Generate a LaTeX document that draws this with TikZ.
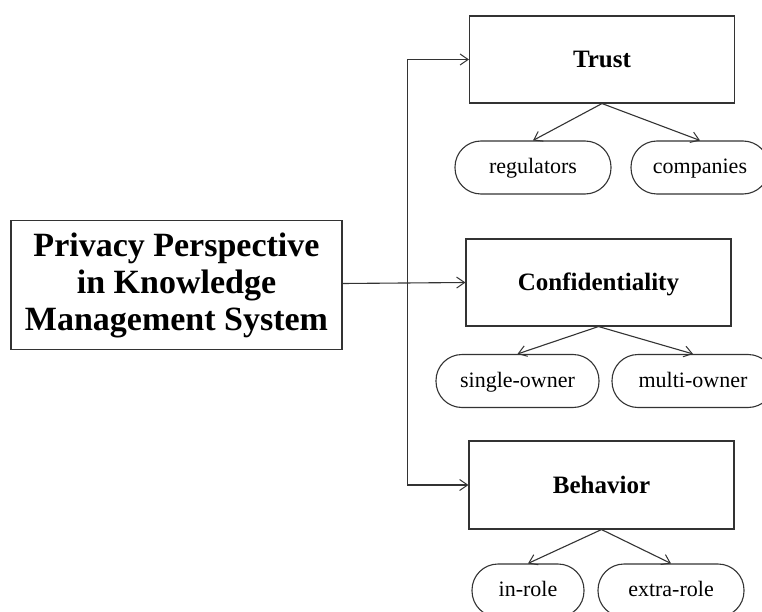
\documentclass[tikz,border=0pt]{standalone}
\usepackage{fontspec}
\setmainfont{Liberation Serif}
\usetikzlibrary{arrows.meta}
\begin{document}
\begin{tikzpicture}[x=1pt,y=-1pt,
  ln/.style={draw=black!80,line width=1.1pt},
  arr/.style={ln,-{Straight Barb[length=8pt,width=11pt,line width=1pt]}},
  topbox/.style={ln,rectangle,inner sep=0pt,minimum width=265pt,minimum height=87pt,text height=16.5pt,text depth=0pt,font=\fontsize{25}{28}\selectfont\bfseries},
  mainbox/.style={ln,rectangle,inner sep=0pt,minimum width=331pt,minimum height=129pt,align=center,font=\fontsize{34}{37}\selectfont\bfseries},
  pill/.style={ln,rectangle,rounded corners=26pt,inner sep=0pt,minimum height=53pt,text height=15pt,text depth=3pt,font=\fontsize{22}{24}\selectfont}
]
\clip (0,0) rectangle (762,612);
\fill[white] (0,0) rectangle (762,612);

\node[mainbox] (main) at (176.5,285) {Privacy Perspective\\in Knowledge\\Management System};

\node[topbox] (trust) at (602,59.5) {Trust};
\node[topbox] (conf) at (598.5,282.5) {Confidentiality};
\node[topbox,minimum height=88pt] (beh) at (601.5,485) {Behavior};

\node[pill,minimum width=156pt] (reg) at (533,167.5) {regulators};
\node[pill,minimum width=138pt] (comp) at (700,167.5) {companies};
\node[pill,minimum width=163pt] (single) at (517.5,381) {single-owner};
\node[pill,minimum width=162pt] (multi) at (693,381) {multi-owner};
\node[pill,minimum width=112pt] (inrole) at (528,590.5) {in-role};
\node[pill,minimum width=146pt] (extra) at (671,590.5) {extra-role};

\coordinate (j) at (407.5,283.5);
\draw[arr] (main.east |- j) -- (conf.west);
\draw[arr] (j) |- (trust.west);
\draw[arr] (j) |- (beh.west);

\draw[arr] (trust.south) -- (reg.north);
\draw[arr] (trust.south) -- (comp.north);
\draw[arr] (conf.south) -- (single.north);
\draw[arr] (conf.south) -- (multi.north);
\draw[arr] (beh.south) -- (inrole.north);
\draw[arr] (beh.south) -- (extra.north);
\end{tikzpicture}
\end{document}
